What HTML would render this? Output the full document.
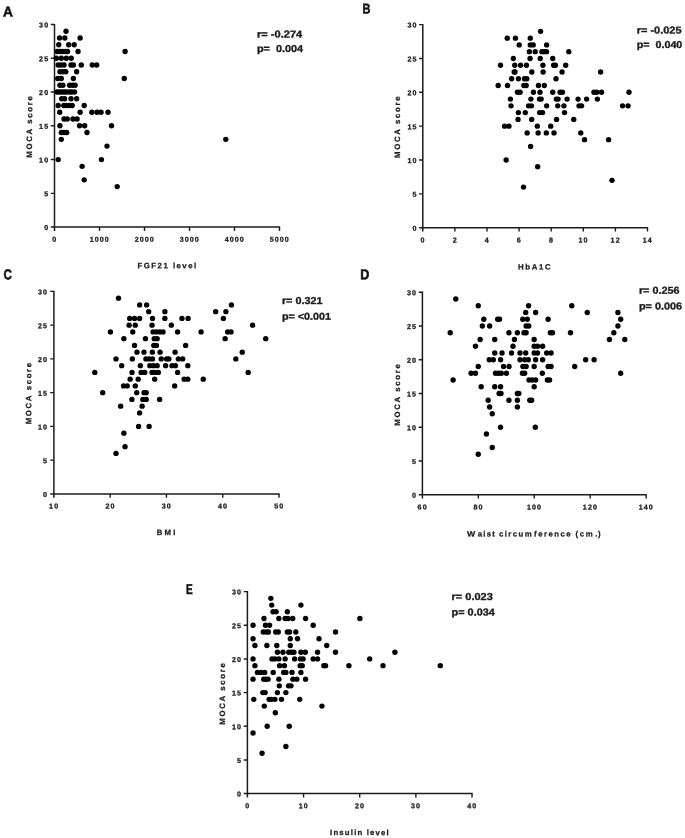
<!DOCTYPE html>
<html><head><meta charset="utf-8"><title>MOCA score correlations</title>
<style>
html,body{margin:0;padding:0;background:#fff;}
body{width:685px;height:838px;overflow:hidden;font-family:"Liberation Sans",sans-serif;}
svg{display:block;filter:blur(0.5px);}
text{font-family:"Liberation Sans",sans-serif;font-weight:bold;fill:#1c1c1c;}
.t{font-size:7.1px;stroke:#1c1c1c;stroke-width:0.3px;}
.l{font-size:7.8px;stroke:#1c1c1c;stroke-width:0.25px;}
.L{font-size:14.2px;fill:#111;stroke:#111;stroke-width:0.55px;}
.s{font-size:10px;stroke:#1c1c1c;stroke-width:0.35px;}
</style></head>
<body>
<svg width="685" height="838" viewBox="0 0 685 838">
<rect width="685" height="838" fill="#fff"/>
<g><path d="M54.5 23.9V231M50.8 227.1H280.1" stroke="#1c1c1c" stroke-width="1.5" fill="none"/>
<path d="M50.8 193.33H54.5M50.8 159.57H54.5M50.8 125.8H54.5M50.8 92.03H54.5M50.8 58.27H54.5M50.8 24.5H54.5M99.5 227.1V231M144.5 227.1V231M189.5 227.1V231M234.5 227.1V231M279.5 227.1V231" stroke="#1c1c1c" stroke-width="1.4" fill="none"/>
<text class="t" transform="rotate(0.04 44.15 230.1)" x="44.15" y="230.1" textLength="3.95" lengthAdjust="spacing">0</text>
<text class="t" transform="rotate(0.04 44.15 196.33)" x="44.15" y="196.33" textLength="3.95" lengthAdjust="spacing">5</text>
<text class="t" transform="rotate(0.04 39.1 162.57)" x="39.1" y="162.57" textLength="9" lengthAdjust="spacing">10</text>
<text class="t" transform="rotate(0.04 39.1 128.8)" x="39.1" y="128.8" textLength="9" lengthAdjust="spacing">15</text>
<text class="t" transform="rotate(0.04 39.1 95.03)" x="39.1" y="95.03" textLength="9" lengthAdjust="spacing">20</text>
<text class="t" transform="rotate(0.04 39.1 61.27)" x="39.1" y="61.27" textLength="9" lengthAdjust="spacing">25</text>
<text class="t" transform="rotate(0.04 39.1 27.5)" x="39.1" y="27.5" textLength="9" lengthAdjust="spacing">30</text>
<text class="t" transform="rotate(0.04 52.23 241.8)" x="52.23" y="241.8" textLength="3.95" lengthAdjust="spacing">0</text>
<text class="t" transform="rotate(0.04 89.65 241.8)" x="89.65" y="241.8" textLength="19.09" lengthAdjust="spacing">1000</text>
<text class="t" transform="rotate(0.04 134.65 241.8)" x="134.65" y="241.8" textLength="19.09" lengthAdjust="spacing">2000</text>
<text class="t" transform="rotate(0.04 179.65 241.8)" x="179.65" y="241.8" textLength="19.09" lengthAdjust="spacing">3000</text>
<text class="t" transform="rotate(0.04 224.65 241.8)" x="224.65" y="241.8" textLength="19.09" lengthAdjust="spacing">4000</text>
<text class="t" transform="rotate(0.04 269.65 241.8)" x="269.65" y="241.8" textLength="19.09" lengthAdjust="spacing">5000</text>
<text class="l" transform="rotate(0.04 137.5 268.2)" x="137.5" y="268.2" textLength="58.7" lengthAdjust="spacing">FGF21 level</text>
<text class="l" transform="translate(32.1 157.75) rotate(-89.96)" x="0" y="0" textLength="61.5" lengthAdjust="spacing">MOCA score</text>
<text class="L" transform="rotate(0.04 3.1 16.6)" x="3.1" y="16.6" textLength="9.9" lengthAdjust="spacingAndGlyphs">A</text>
<text class="s" transform="rotate(0.04 257 37.5)" x="257" y="37.5" textLength="45.2" lengthAdjust="spacingAndGlyphs">r= -0.274</text>
<text class="s" transform="rotate(0.04 257 52.1)" x="257" y="52.1" textLength="46" lengthAdjust="spacingAndGlyphs">p=  0.004</text>
<g fill="#000"><circle cx="66" cy="31.25" r="2.68"/><circle cx="59.58" cy="38.01" r="2.68"/><circle cx="64.83" cy="38.01" r="2.68"/><circle cx="80.13" cy="38.01" r="2.68"/><circle cx="58.76" cy="44.76" r="2.68"/><circle cx="68.69" cy="44.76" r="2.68"/><circle cx="74.18" cy="44.76" r="2.68"/><circle cx="57.24" cy="51.51" r="2.68"/><circle cx="59.93" cy="51.51" r="2.68"/><circle cx="62.61" cy="51.51" r="2.68"/><circle cx="65.18" cy="51.51" r="2.68"/><circle cx="67.52" cy="51.51" r="2.68"/><circle cx="78.03" cy="51.51" r="2.68"/><circle cx="125.09" cy="51.51" r="2.68"/><circle cx="56.42" cy="58.27" r="2.68"/><circle cx="61.33" cy="58.27" r="2.68"/><circle cx="66.35" cy="58.27" r="2.68"/><circle cx="71.26" cy="58.27" r="2.68"/><circle cx="58.18" cy="65.02" r="2.68"/><circle cx="61.09" cy="65.02" r="2.68"/><circle cx="64.01" cy="65.02" r="2.68"/><circle cx="71.02" cy="65.02" r="2.68"/><circle cx="73.36" cy="65.02" r="2.68"/><circle cx="81.3" cy="65.02" r="2.68"/><circle cx="92.28" cy="65.02" r="2.68"/><circle cx="96.72" cy="65.02" r="2.68"/><circle cx="59.93" cy="71.77" r="2.68"/><circle cx="62.85" cy="71.77" r="2.68"/><circle cx="65.77" cy="71.77" r="2.68"/><circle cx="76.63" cy="71.77" r="2.68"/><circle cx="57.71" cy="78.53" r="2.68"/><circle cx="61.33" cy="78.53" r="2.68"/><circle cx="73.36" cy="78.53" r="2.68"/><circle cx="124.28" cy="78.53" r="2.68"/><circle cx="59.93" cy="85.28" r="2.68"/><circle cx="62.85" cy="85.28" r="2.68"/><circle cx="69.62" cy="85.28" r="2.68"/><circle cx="72.42" cy="85.28" r="2.68"/><circle cx="75.11" cy="85.28" r="2.68"/><circle cx="57.01" cy="92.03" r="2.68"/><circle cx="59.34" cy="92.03" r="2.68"/><circle cx="61.68" cy="92.03" r="2.68"/><circle cx="64.01" cy="92.03" r="2.68"/><circle cx="66.35" cy="92.03" r="2.68"/><circle cx="69.27" cy="92.03" r="2.68"/><circle cx="71.61" cy="92.03" r="2.68"/><circle cx="74.53" cy="92.03" r="2.68"/><circle cx="61.68" cy="98.79" r="2.68"/><circle cx="64.6" cy="98.79" r="2.68"/><circle cx="71.02" cy="98.79" r="2.68"/><circle cx="76.63" cy="98.79" r="2.68"/><circle cx="58.18" cy="105.54" r="2.68"/><circle cx="63.78" cy="105.54" r="2.68"/><circle cx="66.35" cy="105.54" r="2.68"/><circle cx="69.27" cy="105.54" r="2.68"/><circle cx="72.19" cy="105.54" r="2.68"/><circle cx="84.22" cy="105.54" r="2.68"/><circle cx="59.69" cy="112.29" r="2.68"/><circle cx="80.13" cy="112.29" r="2.68"/><circle cx="91.81" cy="112.29" r="2.68"/><circle cx="96.95" cy="112.29" r="2.68"/><circle cx="101.04" cy="112.29" r="2.68"/><circle cx="108.04" cy="112.29" r="2.68"/><circle cx="64.01" cy="119.05" r="2.68"/><circle cx="67.28" cy="119.05" r="2.68"/><circle cx="73.01" cy="119.05" r="2.68"/><circle cx="77.09" cy="119.05" r="2.68"/><circle cx="59.93" cy="125.8" r="2.68"/><circle cx="79.55" cy="125.8" r="2.68"/><circle cx="84.69" cy="125.8" r="2.68"/><circle cx="111.55" cy="125.8" r="2.68"/><circle cx="61.33" cy="132.55" r="2.68"/><circle cx="64.01" cy="132.55" r="2.68"/><circle cx="66.7" cy="132.55" r="2.68"/><circle cx="87.02" cy="132.55" r="2.68"/><circle cx="61.33" cy="139.31" r="2.68"/><circle cx="106.99" cy="146.06" r="2.68"/><circle cx="58.18" cy="159.57" r="2.68"/><circle cx="101.39" cy="159.57" r="2.68"/><circle cx="82.12" cy="166.32" r="2.68"/><circle cx="225.8" cy="139.31" r="2.68"/><circle cx="84.2" cy="179.83" r="2.68"/><circle cx="117.2" cy="186.58" r="2.68"/></g></g>
<g><path d="M422.8 24V231.6M419.1 227.7H648.1" stroke="#1c1c1c" stroke-width="1.5" fill="none"/>
<path d="M419.1 193.85H422.8M419.1 160H422.8M419.1 126.15H422.8M419.1 92.3H422.8M419.1 58.45H422.8M419.1 24.6H422.8M454.9 227.7V231.6M487 227.7V231.6M519.1 227.7V231.6M551.2 227.7V231.6M583.3 227.7V231.6M615.4 227.7V231.6M647.5 227.7V231.6" stroke="#1c1c1c" stroke-width="1.4" fill="none"/>
<text class="t" transform="rotate(0.04 412.45 230.7)" x="412.45" y="230.7" textLength="3.95" lengthAdjust="spacing">0</text>
<text class="t" transform="rotate(0.04 412.45 196.85)" x="412.45" y="196.85" textLength="3.95" lengthAdjust="spacing">5</text>
<text class="t" transform="rotate(0.04 407.4 163)" x="407.4" y="163" textLength="9" lengthAdjust="spacing">10</text>
<text class="t" transform="rotate(0.04 407.4 129.15)" x="407.4" y="129.15" textLength="9" lengthAdjust="spacing">15</text>
<text class="t" transform="rotate(0.04 407.4 95.3)" x="407.4" y="95.3" textLength="9" lengthAdjust="spacing">20</text>
<text class="t" transform="rotate(0.04 407.4 61.45)" x="407.4" y="61.45" textLength="9" lengthAdjust="spacing">25</text>
<text class="t" transform="rotate(0.04 407.4 27.6)" x="407.4" y="27.6" textLength="9" lengthAdjust="spacing">30</text>
<text class="t" transform="rotate(0.04 420.53 242.4)" x="420.53" y="242.4" textLength="3.95" lengthAdjust="spacing">0</text>
<text class="t" transform="rotate(0.04 452.63 242.4)" x="452.63" y="242.4" textLength="3.95" lengthAdjust="spacing">2</text>
<text class="t" transform="rotate(0.04 484.73 242.4)" x="484.73" y="242.4" textLength="3.95" lengthAdjust="spacing">4</text>
<text class="t" transform="rotate(0.04 516.83 242.4)" x="516.83" y="242.4" textLength="3.95" lengthAdjust="spacing">6</text>
<text class="t" transform="rotate(0.04 548.93 242.4)" x="548.93" y="242.4" textLength="3.95" lengthAdjust="spacing">8</text>
<text class="t" transform="rotate(0.04 578.5 242.4)" x="578.5" y="242.4" textLength="9" lengthAdjust="spacing">10</text>
<text class="t" transform="rotate(0.04 610.6 242.4)" x="610.6" y="242.4" textLength="9" lengthAdjust="spacing">12</text>
<text class="t" transform="rotate(0.04 642.7 242.4)" x="642.7" y="242.4" textLength="9" lengthAdjust="spacing">14</text>
<text class="l" transform="rotate(0.04 518 269.4)" x="518" y="269.4" textLength="32.6" lengthAdjust="spacing">HbA1C</text>
<text class="l" transform="translate(400 157.95) rotate(-89.96)" x="0" y="0" textLength="61.5" lengthAdjust="spacing">MOCA score</text>
<text class="L" transform="rotate(0.04 362.6 13.5)" x="362.6" y="13.5" textLength="7.9" lengthAdjust="spacingAndGlyphs">B</text>
<text class="s" transform="rotate(0.04 636.8 33.5)" x="636.8" y="33.5" textLength="44.7" lengthAdjust="spacingAndGlyphs">r= -0.025</text>
<text class="s" transform="rotate(0.04 636.8 48.1)" x="636.8" y="48.1" textLength="45.5" lengthAdjust="spacingAndGlyphs">p=  0.040</text>
<g fill="#000"><circle cx="540.57" cy="31.37" r="2.68"/><circle cx="507.28" cy="38.14" r="2.68"/><circle cx="515.46" cy="38.14" r="2.68"/><circle cx="530.29" cy="38.14" r="2.68"/><circle cx="519.2" cy="44.91" r="2.68"/><circle cx="530.29" cy="44.91" r="2.68"/><circle cx="533.21" cy="44.91" r="2.68"/><circle cx="546.64" cy="44.91" r="2.68"/><circle cx="529.36" cy="51.68" r="2.68"/><circle cx="535.2" cy="51.68" r="2.68"/><circle cx="541.85" cy="51.68" r="2.68"/><circle cx="544.19" cy="51.68" r="2.68"/><circle cx="546.53" cy="51.68" r="2.68"/><circle cx="568.83" cy="51.68" r="2.68"/><circle cx="513.36" cy="58.45" r="2.68"/><circle cx="530.06" cy="58.45" r="2.68"/><circle cx="540.22" cy="58.45" r="2.68"/><circle cx="552.72" cy="58.45" r="2.68"/><circle cx="500.51" cy="65.22" r="2.68"/><circle cx="514.76" cy="65.22" r="2.68"/><circle cx="520.6" cy="65.22" r="2.68"/><circle cx="526.44" cy="65.22" r="2.68"/><circle cx="542.91" cy="65.22" r="2.68"/><circle cx="553.65" cy="65.22" r="2.68"/><circle cx="555.4" cy="65.22" r="2.68"/><circle cx="565.68" cy="65.22" r="2.68"/><circle cx="514.18" cy="71.99" r="2.68"/><circle cx="514.99" cy="71.99" r="2.68"/><circle cx="531.81" cy="71.99" r="2.68"/><circle cx="543.14" cy="71.99" r="2.68"/><circle cx="562.06" cy="71.99" r="2.68"/><circle cx="511.61" cy="78.76" r="2.68"/><circle cx="518.38" cy="78.76" r="2.68"/><circle cx="524.45" cy="78.76" r="2.68"/><circle cx="526.79" cy="78.76" r="2.68"/><circle cx="555.99" cy="78.76" r="2.68"/><circle cx="498.18" cy="85.53" r="2.68"/><circle cx="507.52" cy="85.53" r="2.68"/><circle cx="523.87" cy="85.53" r="2.68"/><circle cx="526.2" cy="85.53" r="2.68"/><circle cx="538.47" cy="85.53" r="2.68"/><circle cx="544.31" cy="85.53" r="2.68"/><circle cx="517.45" cy="92.3" r="2.68"/><circle cx="520.13" cy="92.3" r="2.68"/><circle cx="533.45" cy="92.3" r="2.68"/><circle cx="539.99" cy="92.3" r="2.68"/><circle cx="552.72" cy="92.3" r="2.68"/><circle cx="560.07" cy="92.3" r="2.68"/><circle cx="562.41" cy="92.3" r="2.68"/><circle cx="510.44" cy="99.07" r="2.68"/><circle cx="530.88" cy="99.07" r="2.68"/><circle cx="539.52" cy="99.07" r="2.68"/><circle cx="541.15" cy="99.07" r="2.68"/><circle cx="556.34" cy="99.07" r="2.68"/><circle cx="558.09" cy="99.07" r="2.68"/><circle cx="567.08" cy="99.07" r="2.68"/><circle cx="511.02" cy="105.84" r="2.68"/><circle cx="528.54" cy="105.84" r="2.68"/><circle cx="531.46" cy="105.84" r="2.68"/><circle cx="546.64" cy="105.84" r="2.68"/><circle cx="557.74" cy="105.84" r="2.68"/><circle cx="563.93" cy="105.84" r="2.68"/><circle cx="518.38" cy="112.61" r="2.68"/><circle cx="525.27" cy="112.61" r="2.68"/><circle cx="539.64" cy="112.61" r="2.68"/><circle cx="542.55" cy="112.61" r="2.68"/><circle cx="564.51" cy="112.61" r="2.68"/><circle cx="518.03" cy="119.38" r="2.68"/><circle cx="531.69" cy="119.38" r="2.68"/><circle cx="556.57" cy="119.38" r="2.68"/><circle cx="504.6" cy="126.15" r="2.68"/><circle cx="508.92" cy="126.15" r="2.68"/><circle cx="537.3" cy="126.15" r="2.68"/><circle cx="550.73" cy="126.15" r="2.68"/><circle cx="527.14" cy="132.92" r="2.68"/><circle cx="538.12" cy="132.92" r="2.68"/><circle cx="546.29" cy="132.92" r="2.68"/><circle cx="554" cy="132.92" r="2.68"/><circle cx="530.64" cy="146.46" r="2.68"/><circle cx="506.12" cy="160" r="2.68"/><circle cx="537.65" cy="166.77" r="2.68"/><circle cx="600.62" cy="71.99" r="2.68"/><circle cx="593.96" cy="92.3" r="2.68"/><circle cx="596.77" cy="92.3" r="2.68"/><circle cx="601.55" cy="92.3" r="2.68"/><circle cx="629" cy="92.3" r="2.68"/><circle cx="578.08" cy="99.07" r="2.68"/><circle cx="586.61" cy="99.07" r="2.68"/><circle cx="597.35" cy="99.07" r="2.68"/><circle cx="579.01" cy="105.84" r="2.68"/><circle cx="581.58" cy="105.84" r="2.68"/><circle cx="622.58" cy="105.84" r="2.68"/><circle cx="628.07" cy="105.84" r="2.68"/><circle cx="573.76" cy="119.38" r="2.68"/><circle cx="580.77" cy="132.92" r="2.68"/><circle cx="584.5" cy="139.69" r="2.68"/><circle cx="608.56" cy="139.69" r="2.68"/><circle cx="612" cy="180.31" r="2.68"/><circle cx="523.5" cy="187.08" r="2.68"/></g></g>
<g><path d="M53.9 290.8V497.8M50.2 493.9H279.6" stroke="#1c1c1c" stroke-width="1.5" fill="none"/>
<path d="M50.2 460.15H53.9M50.2 426.4H53.9M50.2 392.65H53.9M50.2 358.9H53.9M50.2 325.15H53.9M50.2 291.4H53.9M110.17 493.9V497.8M166.45 493.9V497.8M222.72 493.9V497.8M279 493.9V497.8" stroke="#1c1c1c" stroke-width="1.4" fill="none"/>
<text class="t" transform="rotate(0.04 42.95 496.9)" x="42.95" y="496.9" textLength="3.95" lengthAdjust="spacing">0</text>
<text class="t" transform="rotate(0.04 42.95 463.15)" x="42.95" y="463.15" textLength="3.95" lengthAdjust="spacing">5</text>
<text class="t" transform="rotate(0.04 37.9 429.4)" x="37.9" y="429.4" textLength="9" lengthAdjust="spacing">10</text>
<text class="t" transform="rotate(0.04 37.9 395.65)" x="37.9" y="395.65" textLength="9" lengthAdjust="spacing">15</text>
<text class="t" transform="rotate(0.04 37.9 361.9)" x="37.9" y="361.9" textLength="9" lengthAdjust="spacing">20</text>
<text class="t" transform="rotate(0.04 37.9 328.15)" x="37.9" y="328.15" textLength="9" lengthAdjust="spacing">25</text>
<text class="t" transform="rotate(0.04 37.9 294.4)" x="37.9" y="294.4" textLength="9" lengthAdjust="spacing">30</text>
<text class="t" transform="rotate(0.04 49.1 508.6)" x="49.1" y="508.6" textLength="9" lengthAdjust="spacing">10</text>
<text class="t" transform="rotate(0.04 105.38 508.6)" x="105.38" y="508.6" textLength="9" lengthAdjust="spacing">20</text>
<text class="t" transform="rotate(0.04 161.65 508.6)" x="161.65" y="508.6" textLength="9" lengthAdjust="spacing">30</text>
<text class="t" transform="rotate(0.04 217.93 508.6)" x="217.93" y="508.6" textLength="9" lengthAdjust="spacing">40</text>
<text class="t" transform="rotate(0.04 274.2 508.6)" x="274.2" y="508.6" textLength="9" lengthAdjust="spacing">50</text>
<text class="l" transform="rotate(0.04 156.8 535)" x="156.8" y="535" textLength="18.7" lengthAdjust="spacing">BMI</text>
<text class="l" transform="translate(31.3 424.35) rotate(-89.96)" x="0" y="0" textLength="61.5" lengthAdjust="spacing">MOCA score</text>
<text class="L" transform="rotate(0.04 3.5 279.3)" x="3.5" y="279.3" textLength="8.4" lengthAdjust="spacingAndGlyphs">C</text>
<text class="s" transform="rotate(0.04 281.9 303.9)" x="281.9" y="303.9" textLength="40.6" lengthAdjust="spacingAndGlyphs">r= 0.321</text>
<text class="s" transform="rotate(0.04 281.9 319.8)" x="281.9" y="319.8" textLength="49.1" lengthAdjust="spacingAndGlyphs">p= <0.001</text>
<g fill="#000"><circle cx="118.47" cy="298.15" r="2.68"/><circle cx="139.64" cy="304.9" r="2.68"/><circle cx="146.64" cy="304.9" r="2.68"/><circle cx="148.69" cy="311.65" r="2.68"/><circle cx="164.89" cy="311.65" r="2.68"/><circle cx="129.71" cy="318.4" r="2.68"/><circle cx="134.53" cy="318.4" r="2.68"/><circle cx="139.64" cy="318.4" r="2.68"/><circle cx="152.48" cy="318.4" r="2.68"/><circle cx="164.89" cy="318.4" r="2.68"/><circle cx="181.97" cy="318.4" r="2.68"/><circle cx="188.1" cy="318.4" r="2.68"/><circle cx="129.12" cy="325.15" r="2.68"/><circle cx="135.26" cy="325.15" r="2.68"/><circle cx="152.04" cy="325.15" r="2.68"/><circle cx="171.31" cy="325.15" r="2.68"/><circle cx="110.44" cy="331.9" r="2.68"/><circle cx="132.77" cy="331.9" r="2.68"/><circle cx="153.07" cy="331.9" r="2.68"/><circle cx="156.42" cy="331.9" r="2.68"/><circle cx="159.78" cy="331.9" r="2.68"/><circle cx="162.99" cy="331.9" r="2.68"/><circle cx="177.59" cy="331.9" r="2.68"/><circle cx="123.87" cy="338.65" r="2.68"/><circle cx="145.47" cy="338.65" r="2.68"/><circle cx="154.23" cy="338.65" r="2.68"/><circle cx="157.15" cy="338.65" r="2.68"/><circle cx="134.53" cy="345.4" r="2.68"/><circle cx="153.8" cy="345.4" r="2.68"/><circle cx="156.42" cy="345.4" r="2.68"/><circle cx="185.62" cy="345.4" r="2.68"/><circle cx="137.01" cy="352.15" r="2.68"/><circle cx="144.01" cy="352.15" r="2.68"/><circle cx="152.34" cy="352.15" r="2.68"/><circle cx="160.07" cy="352.15" r="2.68"/><circle cx="175.11" cy="352.15" r="2.68"/><circle cx="115.99" cy="358.9" r="2.68"/><circle cx="132.34" cy="358.9" r="2.68"/><circle cx="145.91" cy="358.9" r="2.68"/><circle cx="149.12" cy="358.9" r="2.68"/><circle cx="152.48" cy="358.9" r="2.68"/><circle cx="161.24" cy="358.9" r="2.68"/><circle cx="166.64" cy="358.9" r="2.68"/><circle cx="168.83" cy="358.9" r="2.68"/><circle cx="178.32" cy="358.9" r="2.68"/><circle cx="182.7" cy="358.9" r="2.68"/><circle cx="121.68" cy="365.65" r="2.68"/><circle cx="140.36" cy="365.65" r="2.68"/><circle cx="149.85" cy="365.65" r="2.68"/><circle cx="153.5" cy="365.65" r="2.68"/><circle cx="157.15" cy="365.65" r="2.68"/><circle cx="165.62" cy="365.65" r="2.68"/><circle cx="172.04" cy="365.65" r="2.68"/><circle cx="175.4" cy="365.65" r="2.68"/><circle cx="187.81" cy="365.65" r="2.68"/><circle cx="94.82" cy="372.4" r="2.68"/><circle cx="132.04" cy="372.4" r="2.68"/><circle cx="141.09" cy="372.4" r="2.68"/><circle cx="144.74" cy="372.4" r="2.68"/><circle cx="152.04" cy="372.4" r="2.68"/><circle cx="154.96" cy="372.4" r="2.68"/><circle cx="158.32" cy="372.4" r="2.68"/><circle cx="177.59" cy="372.4" r="2.68"/><circle cx="130.15" cy="379.15" r="2.68"/><circle cx="138.18" cy="379.15" r="2.68"/><circle cx="154.67" cy="379.15" r="2.68"/><circle cx="184.16" cy="379.15" r="2.68"/><circle cx="187.81" cy="379.15" r="2.68"/><circle cx="123.58" cy="385.9" r="2.68"/><circle cx="127.23" cy="385.9" r="2.68"/><circle cx="135.26" cy="385.9" r="2.68"/><circle cx="174.67" cy="385.9" r="2.68"/><circle cx="102.7" cy="392.65" r="2.68"/><circle cx="136.72" cy="392.65" r="2.68"/><circle cx="144.01" cy="392.65" r="2.68"/><circle cx="146.2" cy="392.65" r="2.68"/><circle cx="131.9" cy="399.4" r="2.68"/><circle cx="142.85" cy="399.4" r="2.68"/><circle cx="146.2" cy="399.4" r="2.68"/><circle cx="159.64" cy="399.4" r="2.68"/><circle cx="120.66" cy="406.15" r="2.68"/><circle cx="142.12" cy="406.15" r="2.68"/><circle cx="139.64" cy="412.9" r="2.68"/><circle cx="138.61" cy="426.4" r="2.68"/><circle cx="149.12" cy="426.4" r="2.68"/><circle cx="123.87" cy="433.15" r="2.68"/><circle cx="125.04" cy="446.65" r="2.68"/><circle cx="115.99" cy="453.4" r="2.68"/><circle cx="231.42" cy="304.9" r="2.68"/><circle cx="215.66" cy="311.65" r="2.68"/><circle cx="225.88" cy="311.65" r="2.68"/><circle cx="223.39" cy="318.4" r="2.68"/><circle cx="252.59" cy="325.15" r="2.68"/><circle cx="201.06" cy="331.9" r="2.68"/><circle cx="227.63" cy="331.9" r="2.68"/><circle cx="230.99" cy="331.9" r="2.68"/><circle cx="225.15" cy="338.65" r="2.68"/><circle cx="265.73" cy="338.65" r="2.68"/><circle cx="242.23" cy="352.15" r="2.68"/><circle cx="235.8" cy="358.9" r="2.68"/><circle cx="248.21" cy="372.4" r="2.68"/><circle cx="203.25" cy="379.15" r="2.68"/></g></g>
<g><path d="M422.4 291.6V498.6M418.7 494.7H646.7" stroke="#1c1c1c" stroke-width="1.5" fill="none"/>
<path d="M418.7 460.95H422.4M418.7 427.2H422.4M418.7 393.45H422.4M418.7 359.7H422.4M418.7 325.95H422.4M418.7 292.2H422.4M478.32 494.7V498.6M534.25 494.7V498.6M590.17 494.7V498.6M646.1 494.7V498.6" stroke="#1c1c1c" stroke-width="1.4" fill="none"/>
<text class="t" transform="rotate(0.04 412.05 497.7)" x="412.05" y="497.7" textLength="3.95" lengthAdjust="spacing">0</text>
<text class="t" transform="rotate(0.04 412.05 463.95)" x="412.05" y="463.95" textLength="3.95" lengthAdjust="spacing">5</text>
<text class="t" transform="rotate(0.04 407 430.2)" x="407" y="430.2" textLength="9" lengthAdjust="spacing">10</text>
<text class="t" transform="rotate(0.04 407 396.45)" x="407" y="396.45" textLength="9" lengthAdjust="spacing">15</text>
<text class="t" transform="rotate(0.04 407 362.7)" x="407" y="362.7" textLength="9" lengthAdjust="spacing">20</text>
<text class="t" transform="rotate(0.04 407 328.95)" x="407" y="328.95" textLength="9" lengthAdjust="spacing">25</text>
<text class="t" transform="rotate(0.04 407 295.2)" x="407" y="295.2" textLength="9" lengthAdjust="spacing">30</text>
<text class="t" transform="rotate(0.04 417.6 509.4)" x="417.6" y="509.4" textLength="9" lengthAdjust="spacing">60</text>
<text class="t" transform="rotate(0.04 473.53 509.4)" x="473.53" y="509.4" textLength="9" lengthAdjust="spacing">80</text>
<text class="t" transform="rotate(0.04 526.93 509.4)" x="526.93" y="509.4" textLength="14.04" lengthAdjust="spacing">100</text>
<text class="t" transform="rotate(0.04 582.85 509.4)" x="582.85" y="509.4" textLength="14.04" lengthAdjust="spacing">120</text>
<text class="t" transform="rotate(0.04 638.78 509.4)" x="638.78" y="509.4" textLength="14.04" lengthAdjust="spacing">140</text>
<text class="l" transform="rotate(0.04 466.9 536.5)" x="466.9" y="536.5" textLength="8.2" lengthAdjust="spacingAndGlyphs">W</text>
<text class="l" transform="rotate(0.04 477.7 536.5)" x="477.7" y="536.5" textLength="17.1" lengthAdjust="spacing">aist</text>
<text class="l" transform="rotate(0.04 499 536.5)" x="499" y="536.5" textLength="32.7" lengthAdjust="spacing">circum</text>
<text class="l" transform="rotate(0.04 534.1 536.5)" x="534.1" y="536.5" textLength="36.6" lengthAdjust="spacing">ference</text>
<text class="l" transform="rotate(0.04 575.5 536.5)" x="575.5" y="536.5" textLength="17.3" lengthAdjust="spacing">(cm</text>
<text class="l" transform="rotate(0.04 595.2 536.5)" x="595.2" y="536.5" textLength="5.3" lengthAdjust="spacing">.)</text>
<text class="l" transform="translate(399.9 425.65) rotate(-89.96)" x="0" y="0" textLength="61.5" lengthAdjust="spacing">MOCA score</text>
<text class="L" transform="rotate(0.04 360.2 279.3)" x="360.2" y="279.3" textLength="9.1" lengthAdjust="spacingAndGlyphs">D</text>
<text class="s" transform="rotate(0.04 638.9 293.7)" x="638.9" y="293.7" textLength="40.6" lengthAdjust="spacingAndGlyphs">r= 0.256</text>
<text class="s" transform="rotate(0.04 638.9 309.5)" x="638.9" y="309.5" textLength="43.2" lengthAdjust="spacingAndGlyphs">p= 0.006</text>
<g fill="#000"><circle cx="455.77" cy="298.95" r="2.68"/><circle cx="478.25" cy="305.7" r="2.68"/><circle cx="528.61" cy="305.7" r="2.68"/><circle cx="525.69" cy="312.45" r="2.68"/><circle cx="535.62" cy="312.45" r="2.68"/><circle cx="483.8" cy="319.2" r="2.68"/><circle cx="497.66" cy="319.2" r="2.68"/><circle cx="499.56" cy="319.2" r="2.68"/><circle cx="522.77" cy="319.2" r="2.68"/><circle cx="527.3" cy="319.2" r="2.68"/><circle cx="482.34" cy="325.95" r="2.68"/><circle cx="489.64" cy="325.95" r="2.68"/><circle cx="526.13" cy="325.95" r="2.68"/><circle cx="528.76" cy="325.95" r="2.68"/><circle cx="450.22" cy="332.7" r="2.68"/><circle cx="508.91" cy="332.7" r="2.68"/><circle cx="517.37" cy="332.7" r="2.68"/><circle cx="523.94" cy="332.7" r="2.68"/><circle cx="526.13" cy="332.7" r="2.68"/><circle cx="480.15" cy="339.45" r="2.68"/><circle cx="494.74" cy="339.45" r="2.68"/><circle cx="514.45" cy="339.45" r="2.68"/><circle cx="534.16" cy="339.45" r="2.68"/><circle cx="475.47" cy="346.2" r="2.68"/><circle cx="512.99" cy="346.2" r="2.68"/><circle cx="534.16" cy="346.2" r="2.68"/><circle cx="537.52" cy="346.2" r="2.68"/><circle cx="494.74" cy="352.95" r="2.68"/><circle cx="502.04" cy="352.95" r="2.68"/><circle cx="511.53" cy="352.95" r="2.68"/><circle cx="520" cy="352.95" r="2.68"/><circle cx="525.69" cy="352.95" r="2.68"/><circle cx="534.16" cy="352.95" r="2.68"/><circle cx="537.52" cy="352.95" r="2.68"/><circle cx="489.2" cy="359.7" r="2.68"/><circle cx="493.28" cy="359.7" r="2.68"/><circle cx="500.58" cy="359.7" r="2.68"/><circle cx="520" cy="359.7" r="2.68"/><circle cx="524.67" cy="359.7" r="2.68"/><circle cx="528.32" cy="359.7" r="2.68"/><circle cx="535.62" cy="359.7" r="2.68"/><circle cx="478.25" cy="366.45" r="2.68"/><circle cx="503.5" cy="366.45" r="2.68"/><circle cx="509.05" cy="366.45" r="2.68"/><circle cx="522.92" cy="366.45" r="2.68"/><circle cx="526.13" cy="366.45" r="2.68"/><circle cx="534.16" cy="366.45" r="2.68"/><circle cx="471.09" cy="373.2" r="2.68"/><circle cx="475.47" cy="373.2" r="2.68"/><circle cx="495.47" cy="373.2" r="2.68"/><circle cx="498.39" cy="373.2" r="2.68"/><circle cx="501.31" cy="373.2" r="2.68"/><circle cx="506.42" cy="373.2" r="2.68"/><circle cx="522.48" cy="373.2" r="2.68"/><circle cx="524.67" cy="373.2" r="2.68"/><circle cx="453.14" cy="379.95" r="2.68"/><circle cx="529.05" cy="379.95" r="2.68"/><circle cx="532.26" cy="379.95" r="2.68"/><circle cx="535.62" cy="379.95" r="2.68"/><circle cx="481.17" cy="386.7" r="2.68"/><circle cx="494.74" cy="386.7" r="2.68"/><circle cx="500.58" cy="386.7" r="2.68"/><circle cx="534.16" cy="386.7" r="2.68"/><circle cx="499.12" cy="393.45" r="2.68"/><circle cx="501.02" cy="393.45" r="2.68"/><circle cx="517.37" cy="393.45" r="2.68"/><circle cx="518.83" cy="393.45" r="2.68"/><circle cx="488.18" cy="400.2" r="2.68"/><circle cx="508.91" cy="400.2" r="2.68"/><circle cx="517.37" cy="400.2" r="2.68"/><circle cx="529.78" cy="400.2" r="2.68"/><circle cx="531.68" cy="400.2" r="2.68"/><circle cx="489.64" cy="406.95" r="2.68"/><circle cx="517.37" cy="406.95" r="2.68"/><circle cx="492.26" cy="413.7" r="2.68"/><circle cx="500.58" cy="427.2" r="2.68"/><circle cx="535.33" cy="427.2" r="2.68"/><circle cx="486.42" cy="433.95" r="2.68"/><circle cx="492.26" cy="447.45" r="2.68"/><circle cx="478.25" cy="454.2" r="2.68"/><circle cx="571.79" cy="305.7" r="2.68"/><circle cx="587.26" cy="312.45" r="2.68"/><circle cx="617.92" cy="312.45" r="2.68"/><circle cx="548.14" cy="319.2" r="2.68"/><circle cx="620.69" cy="319.2" r="2.68"/><circle cx="617.92" cy="325.95" r="2.68"/><circle cx="550.33" cy="332.7" r="2.68"/><circle cx="552.52" cy="332.7" r="2.68"/><circle cx="570.47" cy="332.7" r="2.68"/><circle cx="613.83" cy="332.7" r="2.68"/><circle cx="609.45" cy="339.45" r="2.68"/><circle cx="624.78" cy="339.45" r="2.68"/><circle cx="542.59" cy="346.2" r="2.68"/><circle cx="546.68" cy="352.95" r="2.68"/><circle cx="551.06" cy="352.95" r="2.68"/><circle cx="542.59" cy="359.7" r="2.68"/><circle cx="585.66" cy="359.7" r="2.68"/><circle cx="594.12" cy="359.7" r="2.68"/><circle cx="548.14" cy="366.45" r="2.68"/><circle cx="551.06" cy="366.45" r="2.68"/><circle cx="574.71" cy="366.45" r="2.68"/><circle cx="542.3" cy="373.2" r="2.68"/><circle cx="620.69" cy="373.2" r="2.68"/><circle cx="547.41" cy="379.95" r="2.68"/><circle cx="549.6" cy="379.95" r="2.68"/></g></g>
<g><path d="M247.4 591V797.5M243.7 793.6H472.6" stroke="#1c1c1c" stroke-width="1.5" fill="none"/>
<path d="M243.7 759.93H247.4M243.7 726.27H247.4M243.7 692.6H247.4M243.7 658.93H247.4M243.7 625.27H247.4M243.7 591.6H247.4M303.55 793.6V797.5M359.7 793.6V797.5M415.85 793.6V797.5M472 793.6V797.5" stroke="#1c1c1c" stroke-width="1.4" fill="none"/>
<text class="t" transform="rotate(0.04 237.05 796.6)" x="237.05" y="796.6" textLength="3.95" lengthAdjust="spacing">0</text>
<text class="t" transform="rotate(0.04 237.05 762.93)" x="237.05" y="762.93" textLength="3.95" lengthAdjust="spacing">5</text>
<text class="t" transform="rotate(0.04 232 729.27)" x="232" y="729.27" textLength="9" lengthAdjust="spacing">10</text>
<text class="t" transform="rotate(0.04 232 695.6)" x="232" y="695.6" textLength="9" lengthAdjust="spacing">15</text>
<text class="t" transform="rotate(0.04 232 661.93)" x="232" y="661.93" textLength="9" lengthAdjust="spacing">20</text>
<text class="t" transform="rotate(0.04 232 628.27)" x="232" y="628.27" textLength="9" lengthAdjust="spacing">25</text>
<text class="t" transform="rotate(0.04 232 594.6)" x="232" y="594.6" textLength="9" lengthAdjust="spacing">30</text>
<text class="t" transform="rotate(0.04 245.13 808.3)" x="245.13" y="808.3" textLength="3.95" lengthAdjust="spacing">0</text>
<text class="t" transform="rotate(0.04 298.75 808.3)" x="298.75" y="808.3" textLength="9" lengthAdjust="spacing">10</text>
<text class="t" transform="rotate(0.04 354.9 808.3)" x="354.9" y="808.3" textLength="9" lengthAdjust="spacing">20</text>
<text class="t" transform="rotate(0.04 411.05 808.3)" x="411.05" y="808.3" textLength="9" lengthAdjust="spacing">30</text>
<text class="t" transform="rotate(0.04 467.2 808.3)" x="467.2" y="808.3" textLength="9" lengthAdjust="spacing">40</text>
<text class="l" transform="rotate(0.04 330.1 835.1)" x="330.1" y="835.1" textLength="58.7" lengthAdjust="spacing">Insulin level</text>
<text class="l" transform="translate(224.9 724.65) rotate(-89.96)" x="0" y="0" textLength="61.5" lengthAdjust="spacing">MOCA score</text>
<text class="L" transform="rotate(0.04 186.1 594)" x="186.1" y="594" textLength="6.7" lengthAdjust="spacingAndGlyphs">E</text>
<text class="s" transform="rotate(0.04 451.6 599.9)" x="451.6" y="599.9" textLength="41.2" lengthAdjust="spacingAndGlyphs">r= 0.023</text>
<text class="s" transform="rotate(0.04 451.6 615.6)" x="451.6" y="615.6" textLength="43.2" lengthAdjust="spacingAndGlyphs">p= 0.034</text>
<g fill="#000"><circle cx="270.84" cy="598.33" r="2.68"/><circle cx="271.72" cy="605.07" r="2.68"/><circle cx="300.91" cy="605.07" r="2.68"/><circle cx="273.03" cy="611.8" r="2.68"/><circle cx="276.09" cy="611.8" r="2.68"/><circle cx="287.34" cy="611.8" r="2.68"/><circle cx="263.98" cy="618.53" r="2.68"/><circle cx="278.87" cy="618.53" r="2.68"/><circle cx="285.15" cy="618.53" r="2.68"/><circle cx="288.07" cy="618.53" r="2.68"/><circle cx="292.74" cy="618.53" r="2.68"/><circle cx="305.58" cy="618.53" r="2.68"/><circle cx="253.03" cy="625.27" r="2.68"/><circle cx="265.44" cy="625.27" r="2.68"/><circle cx="269.53" cy="625.27" r="2.68"/><circle cx="313.18" cy="625.27" r="2.68"/><circle cx="263.25" cy="632" r="2.68"/><circle cx="266.17" cy="632" r="2.68"/><circle cx="268.36" cy="632" r="2.68"/><circle cx="275.66" cy="632" r="2.68"/><circle cx="278.28" cy="632" r="2.68"/><circle cx="287.34" cy="632" r="2.68"/><circle cx="289.53" cy="632" r="2.68"/><circle cx="295.8" cy="632" r="2.68"/><circle cx="335.51" cy="632" r="2.68"/><circle cx="253.03" cy="638.73" r="2.68"/><circle cx="290.26" cy="638.73" r="2.68"/><circle cx="297.55" cy="638.73" r="2.68"/><circle cx="319.01" cy="638.73" r="2.68"/><circle cx="254.93" cy="645.47" r="2.68"/><circle cx="266.9" cy="645.47" r="2.68"/><circle cx="276.82" cy="645.47" r="2.68"/><circle cx="290.26" cy="645.47" r="2.68"/><circle cx="326.75" cy="645.47" r="2.68"/><circle cx="277.41" cy="652.2" r="2.68"/><circle cx="282.96" cy="652.2" r="2.68"/><circle cx="288.8" cy="652.2" r="2.68"/><circle cx="291.42" cy="652.2" r="2.68"/><circle cx="293.91" cy="652.2" r="2.68"/><circle cx="300.91" cy="652.2" r="2.68"/><circle cx="305.29" cy="652.2" r="2.68"/><circle cx="317.55" cy="652.2" r="2.68"/><circle cx="335.51" cy="652.2" r="2.68"/><circle cx="253.03" cy="658.93" r="2.68"/><circle cx="272.01" cy="658.93" r="2.68"/><circle cx="274.93" cy="658.93" r="2.68"/><circle cx="278.87" cy="658.93" r="2.68"/><circle cx="285.15" cy="658.93" r="2.68"/><circle cx="294.64" cy="658.93" r="2.68"/><circle cx="300.47" cy="658.93" r="2.68"/><circle cx="303.1" cy="658.93" r="2.68"/><circle cx="313.18" cy="658.93" r="2.68"/><circle cx="317.55" cy="658.93" r="2.68"/><circle cx="254.93" cy="665.67" r="2.68"/><circle cx="279.6" cy="665.67" r="2.68"/><circle cx="284.42" cy="665.67" r="2.68"/><circle cx="300.18" cy="665.67" r="2.68"/><circle cx="302.23" cy="665.67" r="2.68"/><circle cx="323.83" cy="665.67" r="2.68"/><circle cx="325.58" cy="665.67" r="2.68"/><circle cx="257.41" cy="672.4" r="2.68"/><circle cx="261.06" cy="672.4" r="2.68"/><circle cx="264.71" cy="672.4" r="2.68"/><circle cx="273.18" cy="672.4" r="2.68"/><circle cx="283.69" cy="672.4" r="2.68"/><circle cx="285.88" cy="672.4" r="2.68"/><circle cx="292.01" cy="672.4" r="2.68"/><circle cx="300.91" cy="672.4" r="2.68"/><circle cx="253.03" cy="679.13" r="2.68"/><circle cx="263.69" cy="679.13" r="2.68"/><circle cx="265.88" cy="679.13" r="2.68"/><circle cx="268.07" cy="679.13" r="2.68"/><circle cx="278.87" cy="679.13" r="2.68"/><circle cx="292.88" cy="679.13" r="2.68"/><circle cx="296.82" cy="679.13" r="2.68"/><circle cx="305.58" cy="679.13" r="2.68"/><circle cx="279.31" cy="685.87" r="2.68"/><circle cx="288.5" cy="685.87" r="2.68"/><circle cx="290.99" cy="685.87" r="2.68"/><circle cx="262.81" cy="692.6" r="2.68"/><circle cx="265.15" cy="692.6" r="2.68"/><circle cx="277.41" cy="692.6" r="2.68"/><circle cx="285.88" cy="692.6" r="2.68"/><circle cx="253.76" cy="699.33" r="2.68"/><circle cx="269.09" cy="699.33" r="2.68"/><circle cx="271.28" cy="699.33" r="2.68"/><circle cx="274.93" cy="699.33" r="2.68"/><circle cx="281.5" cy="699.33" r="2.68"/><circle cx="299.74" cy="699.33" r="2.68"/><circle cx="264.27" cy="706.07" r="2.68"/><circle cx="321.93" cy="706.07" r="2.68"/><circle cx="275.36" cy="712.8" r="2.68"/><circle cx="267.19" cy="726.27" r="2.68"/><circle cx="289.23" cy="726.27" r="2.68"/><circle cx="253.03" cy="733" r="2.68"/><circle cx="285.88" cy="746.47" r="2.68"/><circle cx="262.08" cy="753.2" r="2.68"/><circle cx="359.9" cy="618.53" r="2.68"/><circle cx="394.9" cy="652.2" r="2.68"/><circle cx="369.7" cy="658.93" r="2.68"/><circle cx="348.9" cy="665.67" r="2.68"/><circle cx="383" cy="665.67" r="2.68"/><circle cx="440.3" cy="665.67" r="2.68"/></g></g>
</svg>
</body></html>
